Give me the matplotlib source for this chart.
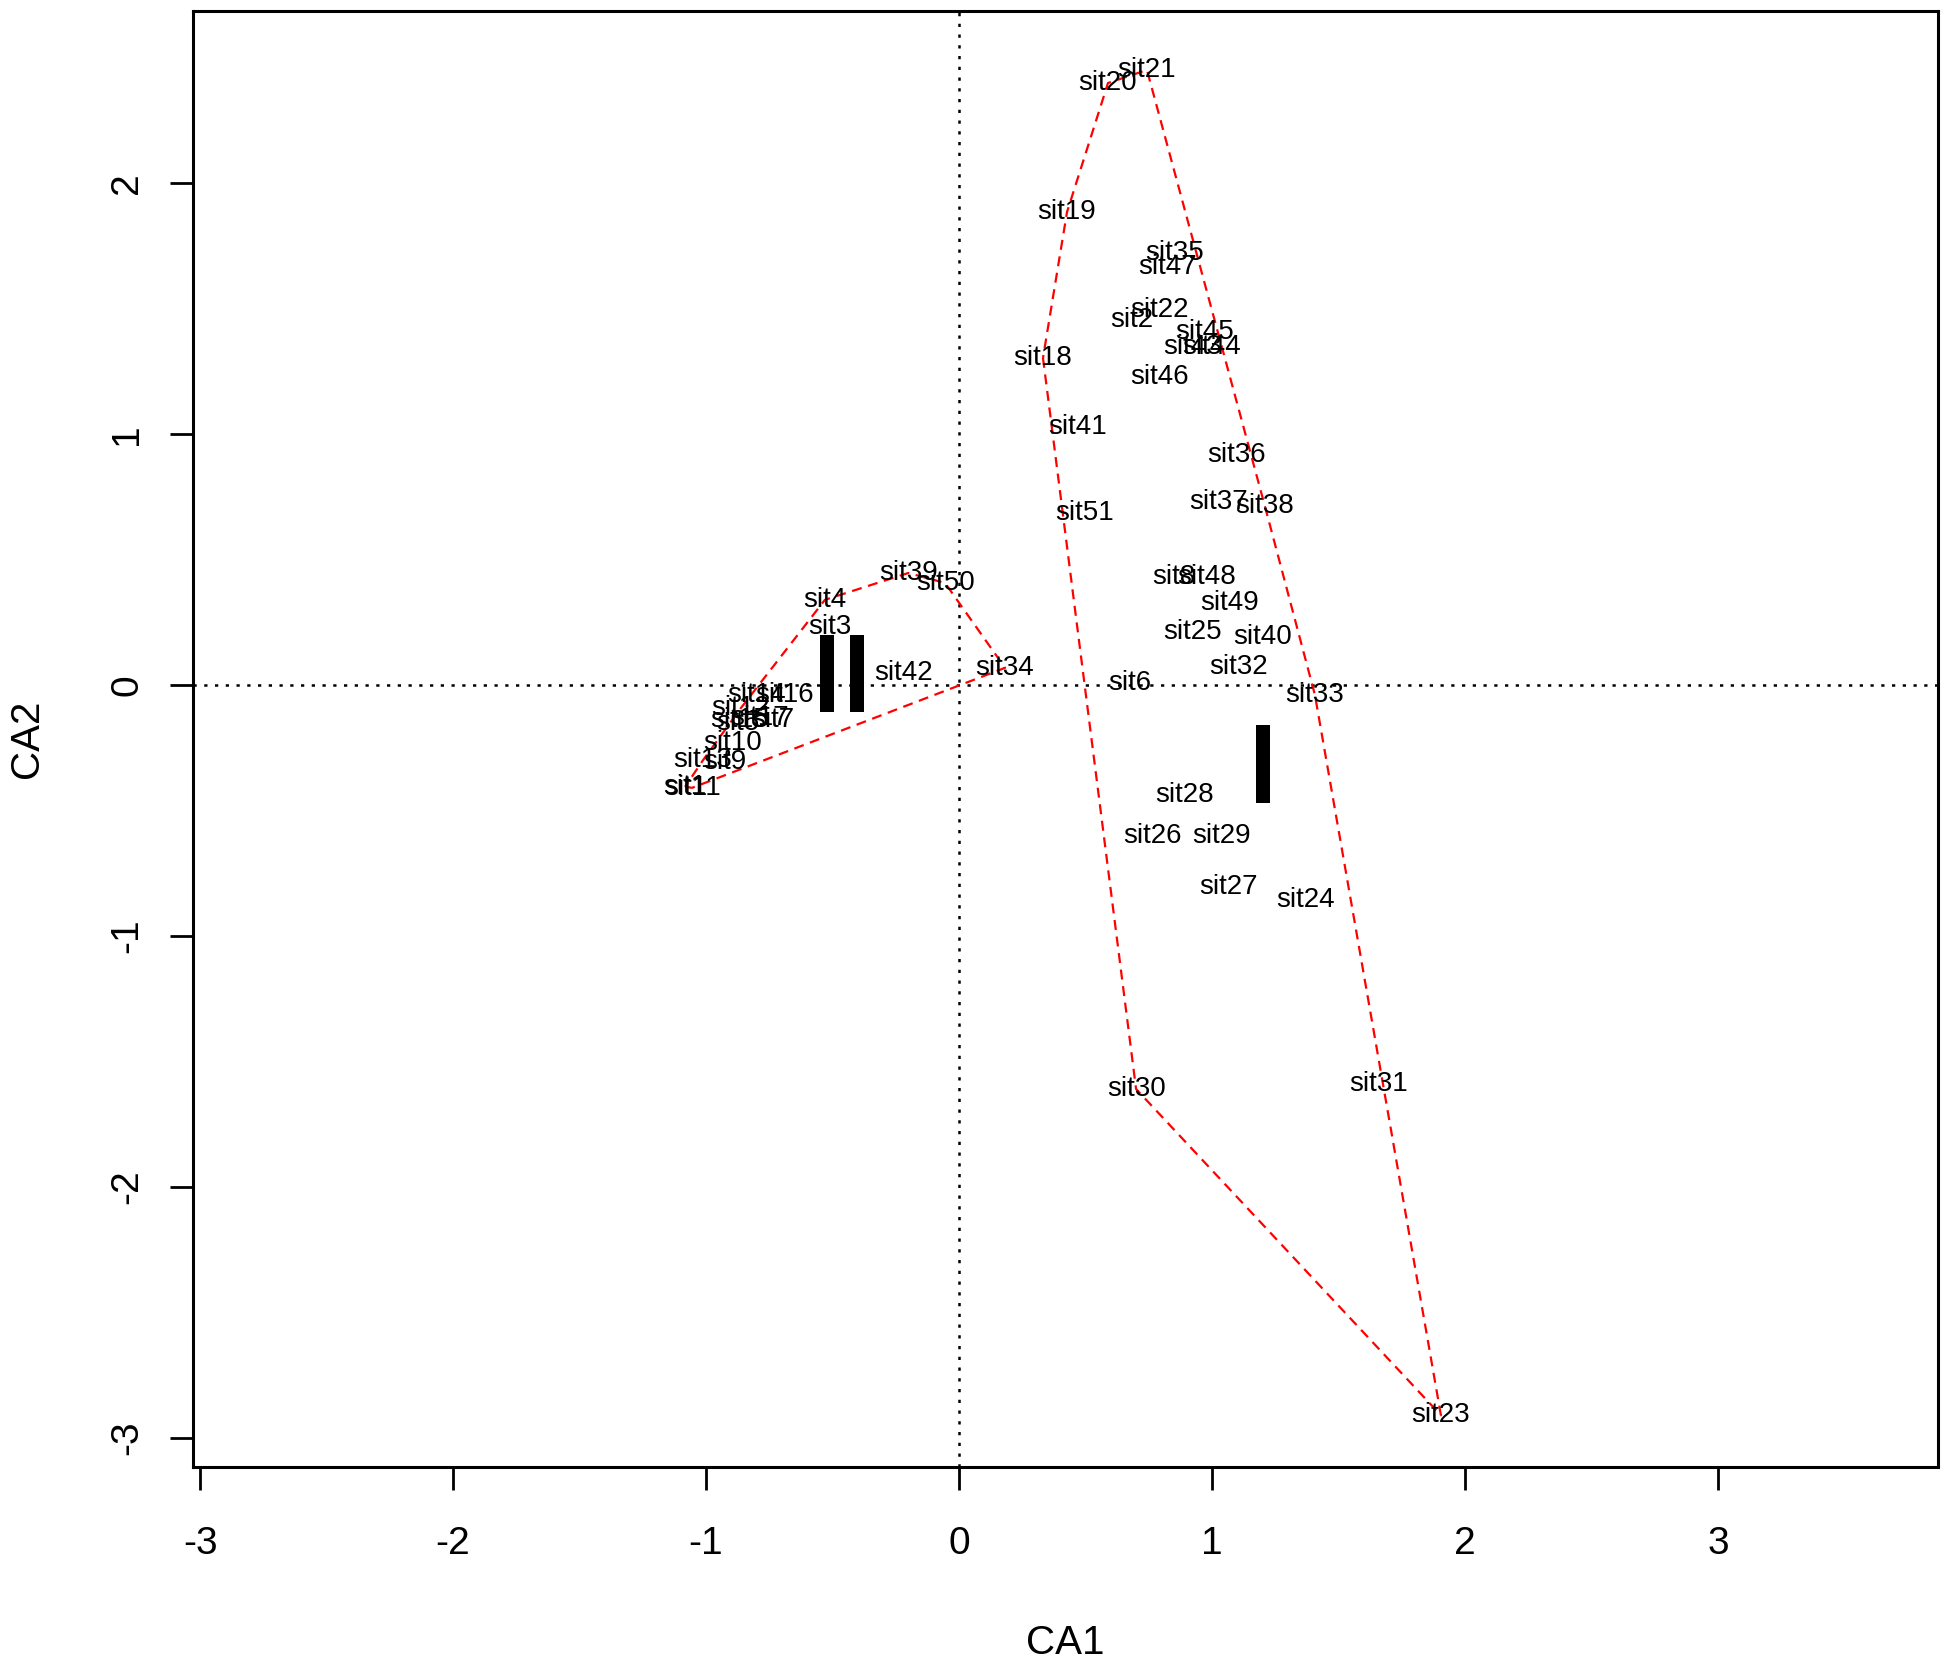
import numpy as np
import matplotlib.pyplot as plt

plt.rcParams['font.family'] = ['Liberation Sans', 'DejaVu Sans']

# site scores (CA1, CA2) and group of each site
site_names = ['sit1', 'sit3', 'sit4', 'sit5', 'sit7', 'sit9', 'sit10', 'sit11', 'sit12',
              'sit13', 'sit14', 'sit15', 'sit16', 'sit17', 'sit34', 'sit39', 'sit42', 'sit50',
              'sit2', 'sit6', 'sit8', 'sit18', 'sit19', 'sit20', 'sit21', 'sit22', 'sit23',
              'sit24', 'sit25', 'sit26', 'sit27', 'sit28', 'sit29', 'sit30', 'sit31', 'sit32',
              'sit33', 'sit35', 'sit36', 'sit37', 'sit38', 'sit40', 'sit41', 'sit43', 'sit44',
              'sit45', 'sit46', 'sit47', 'sit48', 'sit49', 'sit51']
ca1 = [-1.083, -0.51, -0.53, -0.874, -0.735, -0.925, -0.897, -1.055, -0.862,
       -1.012, -0.802, -0.866, -0.688, -0.787, 0.182, -0.20, -0.221, -0.055,
       0.684, 0.676, 0.85, 0.332, 0.427, 0.589, 0.743, 0.794, 1.905,
       1.368, 0.925, 0.765, 1.067, 0.893, 1.036, 0.70, 1.66, 1.103,
       1.407, 0.854, 1.099, 1.024, 1.209, 1.202, 0.47, 0.925, 1.0,
       0.972, 0.794, 0.826, 0.98, 1.071, 0.498]
ca2 = [-0.406, 0.231, 0.339, -0.15, -0.139, -0.307, -0.231, -0.41, -0.092,
       -0.30, -0.04, -0.139, -0.04, -0.13, 0.068, 0.446, 0.048, 0.406,
       1.454, 0.008, 0.43, 1.303, 1.884, 2.398, 2.45, 1.494, -2.91,
       -0.857, 0.211, -0.602, -0.807, -0.438, -0.602, -1.61, -1.59, 0.072,
       -0.04, 1.721, 0.916, 0.729, 0.713, 0.191, 1.028, 1.347, 1.347,
       1.406, 1.227, 1.665, 0.43, 0.327, 0.685]
groups = [1] * 18 + [2] * 33

# black label boxes (group centroids)
box_x = [-0.522, -0.403, 1.202]
box_lo = [-0.108, -0.108, -0.47]
box_hi = [0.199, 0.199, -0.159]


def convex_hull(pts):
    pts = sorted(set(pts))
    def cross(o, a, b):
        return (a[0] - o[0]) * (b[1] - o[1]) - (a[1] - o[1]) * (b[0] - o[0])
    lower, upper = [], []
    for p in pts:
        while len(lower) >= 2 and cross(lower[-2], lower[-1], p) <= 0:
            lower.pop()
        lower.append(p)
    for p in reversed(pts):
        while len(upper) >= 2 and cross(upper[-2], upper[-1], p) <= 0:
            upper.pop()
        upper.append(p)
    return lower[:-1] + upper[:-1]


W, H = 1950, 1671
fig = plt.figure(figsize=(W / 100, H / 100), dpi=100)
ax = fig.add_axes([193 / W, 1 - 1467 / H, (1938 - 193) / W, (1467 - 11) / H])

ax.axhline(0, color='black', lw=1.8, ls=(0, (1.3, 3.0)), zorder=1)
ax.axvline(0, color='black', lw=1.8, ls=(0, (1.3, 3.0)), zorder=1)

x = np.array(ca1)
y = np.array(ca2)
g = np.array(groups)
for k in (1, 2):
    hull = convex_hull(list(zip(x[g == k], y[g == k])))
    hull.append(hull[0])
    hx, hy = zip(*hull)
    ax.plot(hx, hy, color='red', lw=1.6, ls=(0, (4.5, 3)), zorder=2)

for name, xi, yi in zip(site_names, ca1, ca2):
    ax.text(xi, yi, name, ha='center', va='center', fontsize=20, zorder=3)

ax.bar(box_x, np.array(box_hi) - np.array(box_lo), bottom=box_lo, width=0.058,
       color='black', zorder=4)

ax.set_xlim(-3.028, 3.87)
ax.set_ylim(-3.116, 2.685)
ax.set_xticks([-3, -2, -1, 0, 1, 2, 3])
ax.set_yticks([-3, -2, -1, 0, 1, 2])
ax.set_xticklabels(['-3', '-2', '-1', '0', '1', '2', '3'])
ax.set_yticklabels(['-3', '-2', '-1', '0', '1', '2'])

for s in ax.spines.values():
    s.set_linewidth(2.2)
ax.tick_params(axis='both', direction='out', length=16.5, width=2, labelsize=28)
ax.tick_params(axis='x', pad=26)
ax.tick_params(axis='y', pad=18, labelrotation=90)
for lab in ax.get_yticklabels():
    lab.set_va('center')

ax.set_xlabel('CA1', fontsize=29, va='center')
ax.set_ylabel('CA2', fontsize=29, va='center')
ax.xaxis.set_label_coords(0.5, -(1643 - 1467) / (1467 - 11))
ax.yaxis.set_label_coords(-(193 - 27) / (1938 - 193), 0.5)

fig.savefig('out.png', dpi=100)
